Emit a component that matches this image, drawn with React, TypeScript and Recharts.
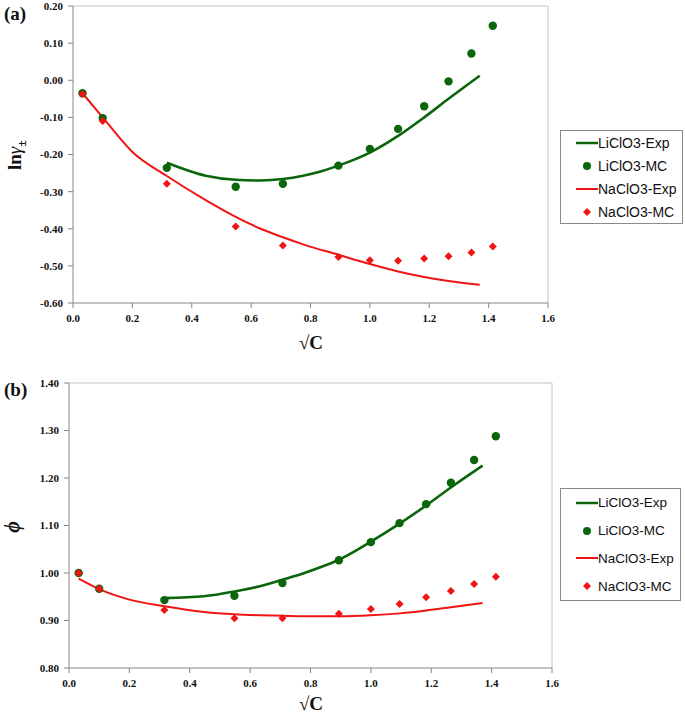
import React from 'react';
import {
    ComposedChart,
    Line,
    Scatter,
    XAxis,
    YAxis,
    ReferenceLine,
    Legend,
} from 'recharts';

// sqrt(C) of the simulated (MC) points
const mcSqrtC = [0.032, 0.1, 0.316, 0.548, 0.707, 0.894, 1.0, 1.095, 1.183, 1.265, 1.342, 1.414];
// sqrt(C) of the experimental curves
const liExpSqrtC = [0.316, 0.447, 0.548, 0.632, 0.707, 0.775, 0.837, 0.894, 1.0, 1.095, 1.183, 1.265, 1.37];
const naExpSqrtC = [0.032, 0.1, 0.2, 0.316, 0.447, 0.548, 0.632, 0.707, 0.775, 0.894, 1.0, 1.095, 1.183, 1.265, 1.37];

// (a) ln gamma
const liMcLnGamma = [-0.035, -0.102, -0.236, -0.287, -0.279, -0.23, -0.185, -0.131, -0.07, -0.003, 0.072, 0.147];
const naMcLnGamma = [-0.037, -0.11, -0.279, -0.394, -0.445, -0.476, -0.485, -0.486, -0.48, -0.474, -0.464, -0.448];
const liExpLnGamma = [-0.222, -0.257, -0.268, -0.27, -0.266, -0.257, -0.245, -0.23, -0.195, -0.15, -0.1, -0.05, 0.012];
const naExpLnGamma = [-0.035, -0.1, -0.193, -0.258, -0.323, -0.368, -0.4, -0.423, -0.442, -0.47, -0.495, -0.515, -0.53, -0.541, -0.551];

// (b) osmotic coefficient
const liMcPhi = [1.0, 0.967, 0.943, 0.952, 0.979, 1.027, 1.065, 1.105, 1.145, 1.19, 1.238, 1.288];
const naMcPhi = [1.0, 0.967, 0.922, 0.905, 0.905, 0.914, 0.924, 0.935, 0.949, 0.962, 0.977, 0.992];
const liExpPhi = [0.947, 0.951, 0.961, 0.972, 0.986, 0.999, 1.013, 1.028, 1.066, 1.104, 1.142, 1.18, 1.226];
const naExpPhi = [0.988, 0.966, 0.944, 0.93, 0.918, 0.913, 0.911, 0.91, 0.909, 0.909, 0.911, 0.915, 0.921, 0.928, 0.937];

const xTicks = [0, 0.2, 0.4, 0.6, 0.8, 1.0, 1.2, 1.4, 1.6];
const yTicksA = [-0.6, -0.5, -0.4, -0.3, -0.2, -0.1, 0, 0.1, 0.2];
const yTicksB = [0.8, 0.9, 1.0, 1.1, 1.2, 1.3, 1.4];

const legendNames = ['LiClO3-Exp', 'LiClO3-MC', 'NaClO3-Exp', 'NaClO3-MC'];

const GREEN = '#0b650b';
const RED = '#f01414';
const AXIS = '#868686';
const BORDER = '#c4c4c4';
const serif = '"Liberation Serif", "Times New Roman", serif';

const zip = (xs: number[], ys: number[]) => xs.map((x, i) => ({ x, y: ys[i] }));

const tickStyle = { fontFamily: serif, fontWeight: 700, fontSize: 11, fill: '#111' };

const Dot = (props: any) => <circle cx={props.cx} cy={props.cy} r={4.2} fill={GREEN} />;
const Diamond = (props: any) => {
    const { cx, cy } = props;
    const s = 4;
    return <polygon points={`${cx},${cy - s} ${cx + s},${cy} ${cx},${cy + s} ${cx - s},${cy}`} fill={RED} />;
};

function LegendBox({ rowH, fontSize }: { rowH: number; fontSize: number }) {
    return (
        <div style={{ border: '1px solid #8a8a8a', background: '#fff', fontFamily: '"Liberation Sans", Arial, sans-serif', fontSize, color: '#111', boxSizing: 'border-box' }}>
            {legendNames.map((name, i) => (
                <div key={name} style={{ display: 'flex', alignItems: 'center', height: rowH, paddingLeft: 15 }}>
                    <svg width={22} height={12} style={{ flex: 'none' }}>
                        {i === 0 && <line x1={0} y1={6} x2={22} y2={6} stroke={GREEN} strokeWidth={2.5} />}
                        {i === 1 && <circle cx={11} cy={6} r={4} fill={GREEN} />}
                        {i === 2 && <line x1={0} y1={6} x2={22} y2={6} stroke={RED} strokeWidth={2} />}
                        {i === 3 && <polygon points="11,2 15,6 11,10 7,6" fill={RED} />}
                    </svg>
                    <span>{name}</span>
                </div>
            ))}
        </div>
    );
}

type PanelProps = {
    tag: string;
    height: number;
    top: number;
    right: number;
    xHeight: number;
    yWidth: number;
    yDomain: [number, number];
    yTicks: number[];
    liMc: number[];
    naMc: number[];
    liExp: number[];
    naExp: number[];
    yTitle: React.ReactNode;
    xTitleY: number;
    tagY: number;
    legendTop: number;
    legendW: number;
    legendRowH: number;
    legendFont: number;
};

function Panel(p: PanelProps) {
    return (
        <ComposedChart width={685} height={p.height} margin={{ top: p.top, right: p.right, left: 0, bottom: 0 }}>
            <XAxis
                dataKey="x"
                type="number"
                domain={[0, 1.6]}
                ticks={xTicks}
                tickFormatter={(v: number) => v.toFixed(1)}
                tick={tickStyle}
                stroke={AXIS}
                tickSize={5}
                tickMargin={6}
                height={p.xHeight}
                allowDataOverflow
            />
            <YAxis
                dataKey="y"
                type="number"
                domain={p.yDomain}
                ticks={p.yTicks}
                tickFormatter={(v: number) => v.toFixed(2)}
                tick={tickStyle}
                stroke={AXIS}
                tickSize={5}
                tickMargin={5}
                width={p.yWidth}
                allowDataOverflow
            />
            <ReferenceLine y={p.yDomain[1]} stroke={BORDER} />
            <ReferenceLine x={1.6} stroke={BORDER} />
            <Line data={zip(naExpSqrtC, p.naExp)} dataKey="y" type="monotone" stroke={RED} strokeWidth={2} dot={false} isAnimationActive={false} />
            <Line data={zip(liExpSqrtC, p.liExp)} dataKey="y" type="monotone" stroke={GREEN} strokeWidth={2.6} dot={false} isAnimationActive={false} />
            <Scatter data={zip(mcSqrtC, p.liMc)} dataKey="y" shape={<Dot />} isAnimationActive={false} />
            <Scatter data={zip(mcSqrtC, p.naMc)} dataKey="y" shape={<Diamond />} isAnimationActive={false} />
            <Legend
                layout="vertical"
                align="center"
                verticalAlign="middle"
                wrapperStyle={{ left: 560, top: p.legendTop, width: p.legendW }}
                content={() => <LegendBox rowH={p.legendRowH} fontSize={p.legendFont} />}
            />
            <text x={4} y={p.tagY} dominantBaseline="central" fontFamily={serif} fontWeight={700} fontSize={19} fill="#111">
                {p.tag}
            </text>
            <text x={311} y={p.xTitleY} textAnchor="middle" dominantBaseline="central" fontFamily={serif} fontWeight={700} fontSize={19} fill="#111">
                √C
            </text>
            {p.yTitle}
        </ComposedChart>
    );
}

export default function App() {
    const lnTitle = (
        <text transform="translate(21,155) rotate(-90)" textAnchor="middle" fontFamily={serif} fontWeight={700} fontSize={19} fill="#111">
            ln<tspan fontStyle="italic" fontWeight={400}>γ</tspan>
            <tspan fontSize={12} dy={5}>±</tspan>
        </text>
    );
    const phiTitle = (
        <text transform="translate(12,167) rotate(-90)" textAnchor="middle" dominantBaseline="central" fontFamily={serif} fontWeight={700} fontStyle="italic" fontSize={20} fill="#111">
            ϕ
        </text>
    );
    return (
        <div style={{ position: 'absolute', left: 0, top: 0, width: 685, height: 716, background: '#fff' }}>
            <div style={{ position: 'absolute', left: 0, top: 0 }}>
                <Panel
                    tag="(a)"
                    height={358}
                    top={6}
                    right={137}
                    xHeight={55}
                    yWidth={73}
                    yDomain={[-0.6, 0.2]}
                    yTicks={yTicksA}
                    liMc={liMcLnGamma}
                    naMc={naMcLnGamma}
                    liExp={liExpLnGamma}
                    naExp={naExpLnGamma}
                    yTitle={lnTitle}
                    xTitleY={342}
                    tagY={13}
                    legendTop={130}
                    legendW={123}
                    legendRowH={23}
                    legendFont={14}
                />
            </div>
            <div style={{ position: 'absolute', left: 0, top: 360 }}>
                <Panel
                    tag="(b)"
                    height={356}
                    top={23}
                    right={133}
                    xHeight={48}
                    yWidth={69}
                    yDomain={[0.8, 1.4]}
                    yTicks={yTicksB}
                    liMc={liMcPhi}
                    naMc={naMcPhi}
                    liExp={liExpPhi}
                    naExp={naExpPhi}
                    yTitle={phiTitle}
                    xTitleY={343}
                    tagY={29}
                    legendTop={128}
                    legendW={121}
                    legendRowH={27.75}
                    legendFont={13.5}
                />
            </div>
        </div>
    );
}
